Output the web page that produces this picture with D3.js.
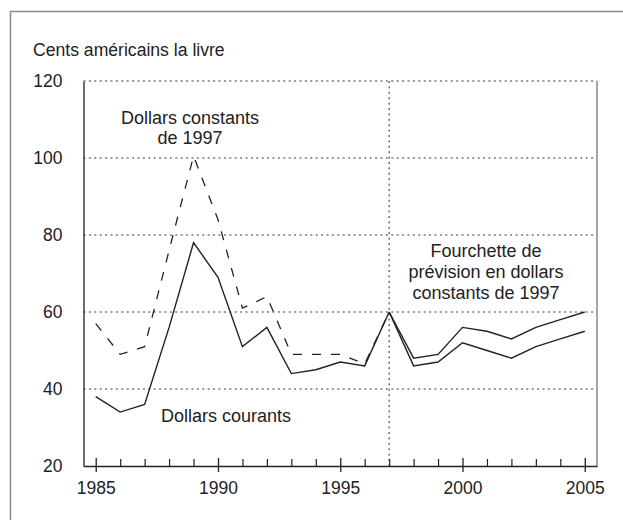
<!DOCTYPE html>
<html>
<head>
<meta charset="utf-8">
<script src="https://cdn.jsdelivr.net/npm/d3@7"></script>
<style>
  body { margin: 0; background: #fff; }
  svg { display: block; font-family: "Liberation Sans", Arial, sans-serif; }
</style>
</head>
<body>
<div id="chart"></div>
<script>
// Données (cents américains la livre)
const years = [1985, 1986, 1987, 1988, 1989, 1990, 1991, 1992, 1993, 1994, 1995, 1996, 1997];
const courants = [38, 34, 36, 56, 78, 69, 51, 56, 44, 45, 47, 46, 60];
const constants = [57, 49, 51, 76, 100.5, 84, 61, 64, 49, 49, 49, 46.5, 60];

const forecastYears = [1997, 1998, 1999, 2000, 2001, 2002, 2003, 2004, 2005];
const forecastHigh = [60, 48, 49, 56, 55, 53, 56, 58, 60];
const forecastLow = [60, 46, 47, 52, 50, 48, 51, 53, 55];

const yTicks = [20, 40, 60, 80, 100, 120];
const xMajor = [1985, 1990, 1995, 2000, 2005];
const xMinor = d3.range(1985, 2006).filter(d => !xMajor.includes(d));

const width = 623;
const height = 520;
const margin = { top: 81, right: 26, bottom: 54, left: 83.5 };

const x = d3.scaleLinear()
    .domain([1984.5, 2005.5])
    .range([margin.left, width - margin.right]);

const y = d3.scaleLinear()
    .domain([20, 120])
    .range([height - margin.bottom, margin.top]);

const svg = d3.select("#chart").append("svg")
    .attr("width", width)
    .attr("height", height)
    .attr("viewBox", [0, 0, width, height]);

// Cadre extérieur
svg.append("rect")
    .attr("x", 10.5).attr("y", 11.5)
    .attr("width", 640).attr("height", 560)
    .attr("fill", "none")
    .attr("stroke", "#888")
    .attr("stroke-width", 1.5);

// Titre de l'axe
svg.append("text")
    .attr("x", 33).attr("y", 56)
    .attr("font-size", "17.6px")
    .attr("fill", "#222")
    .text("Cents américains la livre");

// Grille pointillée
svg.append("g")
    .selectAll("line")
    .data(yTicks.filter(d => d > 20))
    .join("line")
    .attr("x1", x.range()[0]).attr("x2", x.range()[1])
    .attr("y1", d => y(d)).attr("y2", d => y(d))
    .attr("stroke", "#333")
    .attr("stroke-width", 1)
    .attr("stroke-dasharray", "2,3.4");

// Ligne verticale 1997
svg.append("line")
    .attr("x1", x(1997)).attr("x2", x(1997))
    .attr("y1", y(120)).attr("y2", y(20))
    .attr("stroke", "#222")
    .attr("stroke-dasharray", "2,3.4");

// Bord droit du graphique
svg.append("line")
    .attr("x1", x.range()[1]).attr("x2", x.range()[1])
    .attr("y1", y(120)).attr("y2", y(20))
    .attr("stroke", "#888")
    .attr("stroke-width", 1.5);

// Axe Y
svg.append("g")
    .attr("transform", `translate(${margin.left},0)`)
    .call(d3.axisLeft(y).tickValues(yTicks).tickSize(0).tickPadding(21))
    .call(g => g.select(".domain").attr("stroke", "#222").attr("stroke-width", 1.3))
    .call(g => g.selectAll("text").attr("font-size", "17.5px").attr("fill", "#222")
        .attr("font-family", "Liberation Sans, Arial, sans-serif"));

// Graduations mineures
svg.append("g")
    .attr("transform", `translate(0,${y(20)})`)
    .call(d3.axisBottom(x).tickValues(xMinor).tickSize(-7).tickSizeOuter(0).tickFormat(""))
    .call(g => g.select(".domain").remove())
    .call(g => g.selectAll("line").attr("stroke", "#222").attr("stroke-width", 1.2));

// Axe X avec graduations majeures
svg.append("g")
    .attr("transform", `translate(0,${y(20)})`)
    .call(d3.axisBottom(x).tickValues(xMajor).tickSize(6).tickSizeOuter(0).tickPadding(10).tickFormat(d3.format("d")))
    .call(g => g.select(".domain").attr("stroke", "#222").attr("stroke-width", 1.3))
    .call(g => g.selectAll(".tick line").attr("y1", -8).attr("stroke", "#222").attr("stroke-width", 1.3))
    .call(g => g.selectAll("text").attr("font-size", "17.5px").attr("fill", "#222")
        .attr("font-family", "Liberation Sans, Arial, sans-serif"));

const line = d3.line()
    .x(d => x(d[0]))
    .y(d => y(d[1]));

// Dollars constants (tirets)
svg.append("path")
    .datum(d3.zip(years, constants))
    .attr("d", line)
    .attr("fill", "none")
    .attr("stroke", "#222")
    .attr("stroke-width", 1.3)
    .attr("stroke-dasharray", "9,10");

// Dollars courants
svg.append("path")
    .datum(d3.zip(years, courants))
    .attr("d", line)
    .attr("fill", "none")
    .attr("stroke", "#222")
    .attr("stroke-width", 1.4);

// Fourchette de prévision
[forecastHigh, forecastLow].forEach(s => {
    svg.append("path")
        .datum(d3.zip(forecastYears, s))
        .attr("d", line)
        .attr("fill", "none")
        .attr("stroke", "#222")
        .attr("stroke-width", 1.4);
});

// Annotations
function label(lines, cx, y0, dy) {
    svg.append("text")
        .attr("text-anchor", "middle")
        .attr("font-size", "18px")
        .attr("fill", "#222")
        .selectAll("tspan")
        .data(lines)
        .join("tspan")
        .attr("x", cx)
        .attr("y", (d, i) => y0 + i * dy)
        .text(d => d);
}

label(["Dollars constants", "de 1997"], 190, 124, 20);
label(["Dollars courants"], 226, 422, 20);
label(["Fourchette de", "prévision en dollars", "constants de 1997"], 486, 257, 21);
</script>
</body>
</html>
